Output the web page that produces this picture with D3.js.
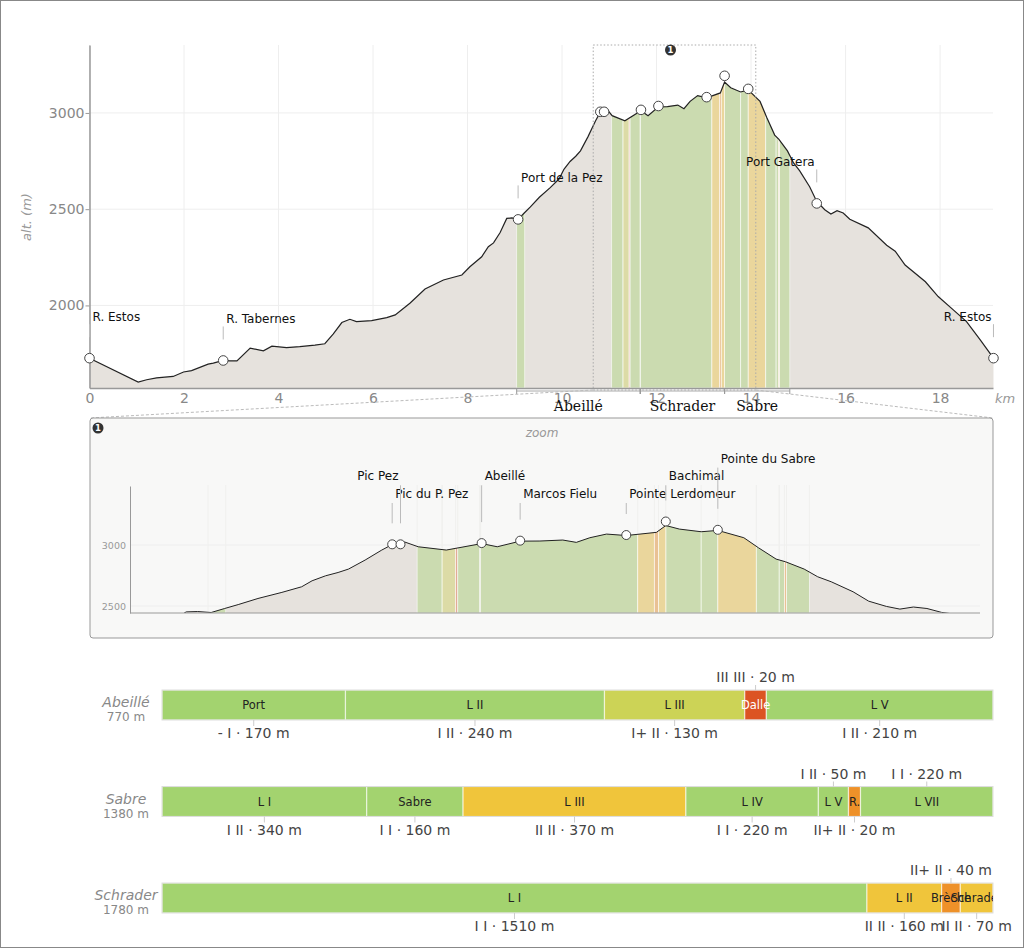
<!DOCTYPE html>
<html>
<head>
<meta charset="utf-8">
<script src="https://cdn.jsdelivr.net/npm/d3@7"></script>
<style>
body { margin: 0; background: #fff; }
svg { display: block; }
</style>
</head>
<body>
<div id="chart"></div>
<script>
// elevation profile (km, m)
const profKm = [0, 1.03, 1.21, 1.42, 1.77, 1.99, 2.16, 2.51, 2.62, 2.83, 2.97, 3.12, 3.40, 3.68, 3.86, 4.17, 4.45, 4.77, 4.98,
  5.16, 5.34, 5.51, 5.65, 5.97, 6.29, 6.47, 6.78, 7.10, 7.49, 7.88, 8.05, 8.30, 8.44, 8.55, 8.69, 8.83, 8.94, 9.07, 9.20,
  9.33, 9.52, 9.75, 9.94, 10.04, 10.17, 10.29, 10.39, 10.55, 10.71, 10.81, 10.89, 10.93, 11.06, 11.33, 11.67, 11.82, 12.04,
  12.23, 12.45, 12.58, 12.71, 12.87, 13.06, 13.35, 13.44, 13.57, 13.78, 13.94, 14.19, 14.33, 14.50, 14.59, 14.77, 14.90,
  15.03, 15.24, 15.39, 15.56, 15.69, 15.82, 15.95, 16.09, 16.48, 16.87, 17.05, 17.26, 17.69, 17.96, 18.28, 18.56, 18.85, 19.13];
const profAlt = [1726, 1602, 1614, 1624, 1631, 1654, 1661, 1695, 1700, 1714, 1712, 1712, 1778, 1764, 1788, 1781, 1786, 1794, 1801,
  1852, 1911, 1928, 1916, 1921, 1937, 1951, 2011, 2085, 2132, 2158, 2201, 2253, 2305, 2325, 2379, 2452, 2455, 2447, 2480,
  2512, 2562, 2612, 2658, 2707, 2748, 2775, 2803, 2877, 2959, 3004, 3006, 3025, 2986, 2959, 3012, 2986, 3032,
  3033, 3041, 3022, 3060, 3090, 3078, 3104, 3160, 3131, 3109, 3120, 3060, 2978, 2885, 2863, 2803, 2740,
  2699, 2617, 2540, 2497, 2475, 2492, 2480, 2448, 2403, 2313, 2282, 2210, 2123, 2046, 1977, 1916, 1821, 1726];

// waypoints along the route
const wpNames = ["R. Estos", "R. Tabernes", "Port de la Pez", "Port Gatera", "R. Estos"];
const wpKm = [0, 2.83, 9.07, 15.39, 19.13];
const wpAlt = [1726, 1714, 2447, 2530, 1726];

// summits shown in the zoom panel
const peakNames = ["Pic du P. Pez", "Pic Pez", "Abeillé", "Marcos Fielu", "Pointe Lerdomeur", "Bachimal", "Pointe du Sabre"];
const peakKm = [10.81, 10.89, 11.67, 12.04, 13.06, 13.44, 13.94];
const peakAlt = [3006, 3006, 3016, 3036, 3082, 3193, 3125];
const peakRow = [0, 1, 1, 0, 0, 1, 2];

const xTicks = [0, 2, 4, 6, 8, 10, 12, 14, 16, 18];
const yTicks = [2000, 2500, 3000];
const zoomKm = [10.66, 14.10];

// ridge routes: sections, lengths (m), grades, start (km on profile)
const routeNames = ["Abeillé", "Sabre", "Schrader"];
const abeNames = ["Port", "L II", "L III", "Dalle", "L V"];
const abeLen = [170, 240, 130, 20, 210];
const abeGrade = ["- I", "I II", "I+ II", "III III", "I II"];
const abeKm = [9.04, 11.05, 11.29, 11.42, 11.44];
const sabNames = ["L I", "Sabre", "L III", "L IV", "L V", "R.", "L VII"];
const sabLen = [340, 160, 370, 220, 50, 20, 220];
const sabGrade = ["I II", "I I", "II II", "I I", "I II", "II+ II", "I I"];
const sabKm = [13.44, 13.78, 13.94, 14.31, 14.53, 14.58, 14.60];
const schNames = ["L I", "L II", "Brèche", "Schrader"];
const schLen = [1510, 160, 40, 70];
const schGrade = ["I I", "II II", "II+ II", "II II"];
const schKm = [11.66, 13.17, 13.33, 13.37];

const gradeColor = d3.scaleOrdinal()
  .domain(["-", "I", "I+", "II", "II+", "III"])
  .range(["#a3d36f", "#a3d36f", "#ccd356", "#f0c53b", "#ee9129", "#dc5423"]);
const colorOf = g => gradeColor(g.split(" ")[0]);

const secNames = [abeNames, sabNames, schNames];
const secLen = [abeLen, sabLen, schLen];
const secGrade = [abeGrade, sabGrade, schGrade];
const secKm = [abeKm, sabKm, schKm];
const routes = routeNames.map((r, i) => {
  let cum = 0;
  const secs = secNames[i].map((n, j) => {
    const s = { route: r, name: n, len: secLen[i][j], grade: secGrade[i][j], km: secKm[i][j], off: cum };
    cum += s.len;
    return s;
  });
  return { name: r, secs, total: cum };
});
const allSecs = routes.flatMap(r => r.secs);

const profile = profKm.map((k, i) => ({ km: k, alt: profAlt[i] }));
const waypoints = wpNames.map((n, i) => ({ name: n, km: wpKm[i], alt: wpAlt[i] }));
const peaks = peakNames.map((n, i) => ({ name: n, km: peakKm[i], alt: peakAlt[i], row: peakRow[i] }));

const FONT = "'DejaVu Sans', sans-serif";
const svg = d3.select("#chart").append("svg")
  .attr("width", 1024).attr("height", 948)
  .style("font-family", FONT);
const defs = svg.append("defs");

svg.append("rect").attr("x", 0.5).attr("y", 0.5).attr("width", 1023).attr("height", 947)
  .attr("fill", "#fff").attr("stroke", "#888");

// ---------- main profile ----------
const x = d3.scaleLinear().domain([0, 19.12]).range([89.5, 993]);
const y = d3.scaleLinear().domain([1571, 3353]).range([388, 45]);
const main = svg.append("g");

main.selectAll(".gx").data(xTicks).enter().append("line").attr("class", "gx")
  .attr("x1", d => x(d)).attr("x2", d => x(d)).attr("y1", 45).attr("y2", 388)
  .attr("stroke", "#eee");
main.selectAll(".gy").data(yTicks).enter().append("line").attr("class", "gy")
  .attr("x1", 89.5).attr("x2", 993).attr("y1", d => y(d)).attr("y2", d => y(d))
  .attr("stroke", "#eee");

const area = d3.area().x(d => x(d.km)).y0(388).y1(d => y(d.alt));
const line = d3.line().x(d => x(d.km)).y(d => y(d.alt));
defs.append("clipPath").attr("id", "clipTop").append("path").attr("d", area(profile));

main.append("path").attr("d", area(profile)).attr("fill", "#e6e2dd");
main.append("g").attr("clip-path", "url(#clipTop)")
  .selectAll("rect").data(allSecs).enter().append("rect")
  .attr("x", d => x(d.km)).attr("width", d => x(d.km + d.len / 1000) - x(d.km))
  .attr("y", 45).attr("height", 343)
  .attr("fill", d => colorOf(d.grade)).attr("fill-opacity", 0.4)
  .attr("stroke", "#fff").attr("stroke-opacity", 0.7).attr("stroke-width", 0.8);
main.append("path").attr("d", line(profile)).attr("fill", "none")
  .attr("stroke", "#222").attr("stroke-width", 1.2);

const yAx = main.append("g").attr("transform", "translate(89.5,0)")
  .call(d3.axisLeft(y).tickValues(yTicks).tickFormat(d3.format("d"))
    .tickSize(4).tickSizeOuter(0).tickPadding(1));
const xAx = main.append("g").attr("transform", "translate(0,388)")
  .call(d3.axisBottom(x).tickValues(xTicks).tickSize(0).tickPadding(5));
[yAx, xAx].forEach(a => {
  a.attr("font-family", FONT).attr("font-size", 14);
  a.select(".domain").attr("stroke", "#999").attr("stroke-width", 1.5);
  a.selectAll(".tick line").attr("stroke", "#999");
  a.selectAll(".tick text").attr("fill", "#888");
});

main.append("text").attr("transform", "translate(31,217) rotate(-90)")
  .attr("text-anchor", "middle").attr("font-size", 13).attr("font-style", "italic")
  .attr("fill", "#999").text("alt. (m)");
main.append("text").attr("x", 995).attr("y", 403)
  .attr("font-size", 13).attr("font-style", "italic").attr("fill", "#999").text("km");

// route brackets under the axis
routes.forEach(r => {
  const k0 = d3.min(r.secs, s => s.km), k1 = d3.max(r.secs, s => s.km + s.len / 1000);
  main.append("line").attr("x1", x(k0)).attr("x2", x(k1)).attr("y1", 391).attr("y2", 391)
    .attr("stroke", "#aaa");
  [k0, k1].forEach(k => main.append("line").attr("x1", x(k)).attr("x2", x(k))
    .attr("y1", 388).attr("y2", 394).attr("stroke", "#999"));
  main.append("text").attr("x", x((k0 + k1) / 2)).attr("y", 411)
    .attr("text-anchor", "middle").attr("font-family", "'DejaVu Serif', serif")
    .attr("font-size", 14).attr("fill", "#111").text(r.name);
});

// zoom box
const zx0 = x(zoomKm[0]), zx1 = x(zoomKm[1]);
main.append("rect").attr("x", zx0).attr("y", 45).attr("width", zx1 - zx0).attr("height", 345)
  .attr("fill", "none").attr("stroke", "#aaa").attr("stroke-dasharray", "1.5,2");

function badge(g, cx, cy) {
  g.append("circle").attr("cx", cx).attr("cy", cy).attr("r", 5.5).attr("fill", "#333");
  g.append("text").attr("x", cx).attr("y", cy + 3.2).attr("text-anchor", "middle")
    .attr("font-size", 8.5).attr("font-weight", "bold").attr("fill", "#fff").text("1");
}
badge(main, (zx0 + zx1) / 2 - 4, 50);

// waypoint markers
main.selectAll(".wp").data(waypoints.concat(peaks)).enter().append("circle").attr("class", "wp")
  .attr("cx", d => x(d.km)).attr("cy", d => y(d.alt)).attr("r", 4.8)
  .attr("fill", "#fff").attr("stroke", "#444").attr("stroke-width", 1);

waypoints.forEach(d => {
  const cx = x(d.km), cy = y(d.alt);
  const right = (cx - 89.5) / (993 - 89.5) > 0.75;
  main.append("line").attr("x1", cx).attr("x2", cx).attr("y1", cy - 34).attr("y2", cy - 21)
    .attr("stroke", "#bbb");
  main.append("text").attr("x", right ? cx - 2 : cx + 3).attr("y", cy - 37)
    .attr("text-anchor", right ? "end" : "start")
    .attr("font-size", 12).attr("fill", "#111").text(d.name);
});

// ---------- zoom panel ----------
svg.append("line").attr("x1", zx0).attr("y1", 390).attr("x2", 90).attr("y2", 418)
  .attr("stroke", "#bbb").attr("stroke-dasharray", "3,2");
svg.append("line").attr("x1", zx1).attr("y1", 390).attr("x2", 993).attr("y2", 418)
  .attr("stroke", "#bbb").attr("stroke-dasharray", "3,2");

const ins = svg.append("g");
ins.append("rect").attr("x", 90).attr("y", 418).attr("width", 903).attr("height", 220).attr("rx", 3)
  .attr("fill", "#f8f8f7").attr("stroke", "#999");
badge(ins, 98, 428);
ins.append("text").attr("x", 542).attr("y", 437).attr("text-anchor", "middle")
  .attr("font-size", 12).attr("font-style", "italic").attr("fill", "#999").text("zoom");

const xi = d3.scaleLinear().domain([8.29, 16.46]).range([130, 980]);
const yi = d3.scaleLinear().domain([2443, 3484]).range([613, 486]);

ins.selectAll(".igy").data(yTicks.filter(t => t >= 2443)).enter().append("line").attr("class", "igy")
  .attr("x1", 130).attr("x2", 980).attr("y1", d => yi(d)).attr("y2", d => yi(d)).attr("stroke", "#eee");
const edges = Array.from(new Set(allSecs.flatMap(s => [s.km, s.km + s.len / 1000])));
ins.selectAll(".ie").data(edges).enter().append("line").attr("class", "ie")
  .attr("x1", d => xi(d)).attr("x2", d => xi(d)).attr("y1", 485).attr("y2", 613)
  .attr("stroke", "#f0f0ee");

defs.append("clipPath").attr("id", "clipInsRect").append("rect")
  .attr("x", 130).attr("y", 480).attr("width", 850).attr("height", 133);
const areaI = d3.area().x(d => xi(d.km)).y0(613).y1(d => yi(d.alt));
const lineI = d3.line().x(d => xi(d.km)).y(d => yi(d.alt));
defs.append("clipPath").attr("id", "clipInsArea").append("path").attr("d", areaI(profile));

const insPlot = ins.append("g").attr("clip-path", "url(#clipInsRect)");
insPlot.append("path").attr("d", areaI(profile)).attr("fill", "#e6e2dd");
insPlot.append("g").attr("clip-path", "url(#clipInsArea)")
  .selectAll("rect").data(allSecs).enter().append("rect")
  .attr("x", d => xi(d.km)).attr("width", d => xi(d.km + d.len / 1000) - xi(d.km))
  .attr("y", 480).attr("height", 133)
  .attr("fill", d => colorOf(d.grade)).attr("fill-opacity", 0.4)
  .attr("stroke", "#fff").attr("stroke-opacity", 0.7).attr("stroke-width", 0.8);
insPlot.append("path").attr("d", lineI(profile)).attr("fill", "none")
  .attr("stroke", "#222").attr("stroke-width", 1);

const yAxI = ins.append("g").attr("transform", "translate(130,0)")
  .call(d3.axisLeft(yi).tickValues(yTicks.filter(t => t >= 2443)).tickFormat(d3.format("d"))
    .tickSize(0).tickPadding(4).tickSizeOuter(0));
yAxI.attr("font-family", FONT).attr("font-size", 9.5);
yAxI.select(".domain").attr("stroke", "#999");
yAxI.selectAll(".tick text").attr("fill", "#999");
ins.append("line").attr("x1", 130).attr("x2", 980).attr("y1", 613).attr("y2", 613)
  .attr("stroke", "#999").attr("stroke-width", 1.2);

const rowY = r => 498 - r * 17.7;
peaks.forEach((d, i) => {
  const cx = xi(d.km), cy = yi(d.alt);
  const prevClose = i > 0 && cx - xi(peaks[i - 1].km) < 12;
  const by = rowY(d.row);
  ins.append("line").attr("x1", cx).attr("x2", cx).attr("y1", by + 5).attr("y2", cy - 21)
    .attr("stroke", "#bbb");
  ins.append("text").attr("x", prevClose ? cx - 2 : cx + 3).attr("y", by)
    .attr("text-anchor", prevClose ? "end" : "start")
    .attr("font-size", 12).attr("fill", "#111").text(d.name);
});
ins.selectAll(".pk").data(peaks).enter().append("circle").attr("class", "pk")
  .attr("cx", d => xi(d.km)).attr("cy", d => yi(d.alt)).attr("r", 4.5)
  .attr("fill", "#fff").attr("stroke", "#444");

// ---------- route bars ----------
const yb = d3.scalePoint().domain(routeNames).range([690, 883]);
const barH = 30;
routes.forEach((r, ri) => {
  const xr = d3.scaleLinear().domain([0, r.total]).range([162, 993]);
  const t0 = yb(r.name), t1 = t0 + barH;
  const g = svg.append("g");

  g.append("text").attr("x", 126).attr("y", t0 + 17).attr("text-anchor", "middle")
    .attr("font-size", 14).attr("font-style", "italic").attr("fill", "#888").text(r.name);
  g.append("text").attr("x", 126).attr("y", t0 + 31).attr("text-anchor", "middle")
    .attr("font-size", 12).attr("fill", "#888").text(r.total + " m");

  defs.append("clipPath").attr("id", "clipBar" + ri).append("rect")
    .attr("x", 162).attr("y", t0).attr("width", 831).attr("height", barH);

  g.selectAll(".seg").data(r.secs).enter().append("rect").attr("class", "seg")
    .attr("x", d => xr(d.off)).attr("width", d => xr(d.off + d.len) - xr(d.off))
    .attr("y", t0).attr("height", barH)
    .attr("fill", d => colorOf(d.grade))
    .attr("stroke", "#fff").attr("stroke-opacity", 0.6).attr("stroke-width", 1.2);
  g.append("rect").attr("x", 162).attr("y", t0).attr("width", 831).attr("height", barH)
    .attr("fill", "none").attr("stroke", "#ddd");

  g.append("g").attr("clip-path", "url(#clipBar" + ri + ")")
    .selectAll("text").data(r.secs).enter().append("text")
    .attr("x", d => xr(d.off + d.len / 2)).attr("y", t0 + 19).attr("text-anchor", "middle")
    .attr("font-size", 11.5)
    .attr("fill", d => d3.lab(colorOf(d.grade)).l < 60 ? "#fff" : "#222")
    .text(d => d.name);

  let prev = null;
  r.secs.forEach(s => {
    const cx = xr(s.off + s.len / 2), w = xr(s.off + s.len) - xr(s.off);
    const t = g.append("text").attr("x", cx).attr("text-anchor", "middle")
      .attr("font-size", 14).attr("fill", "#444").text(`${s.grade} · ${s.len} m`);
    const tw = t.node().getComputedTextLength();
    let above = false;
    if (prev && prev.side === "below" && (w < tw / 2 || prev.right + 2 > cx - tw / 2)) above = true;
    t.attr("y", above ? t0 - 8 : t1 + 18);
    g.append("line").attr("x1", cx).attr("x2", cx)
      .attr("y1", above ? t0 - 5 : t1).attr("y2", above ? t0 : t1 + 6)
      .attr("stroke", "#ccc");
    prev = { side: above ? "above" : "below", right: cx + tw / 2 };
  });
});
</script>
</body>
</html>
